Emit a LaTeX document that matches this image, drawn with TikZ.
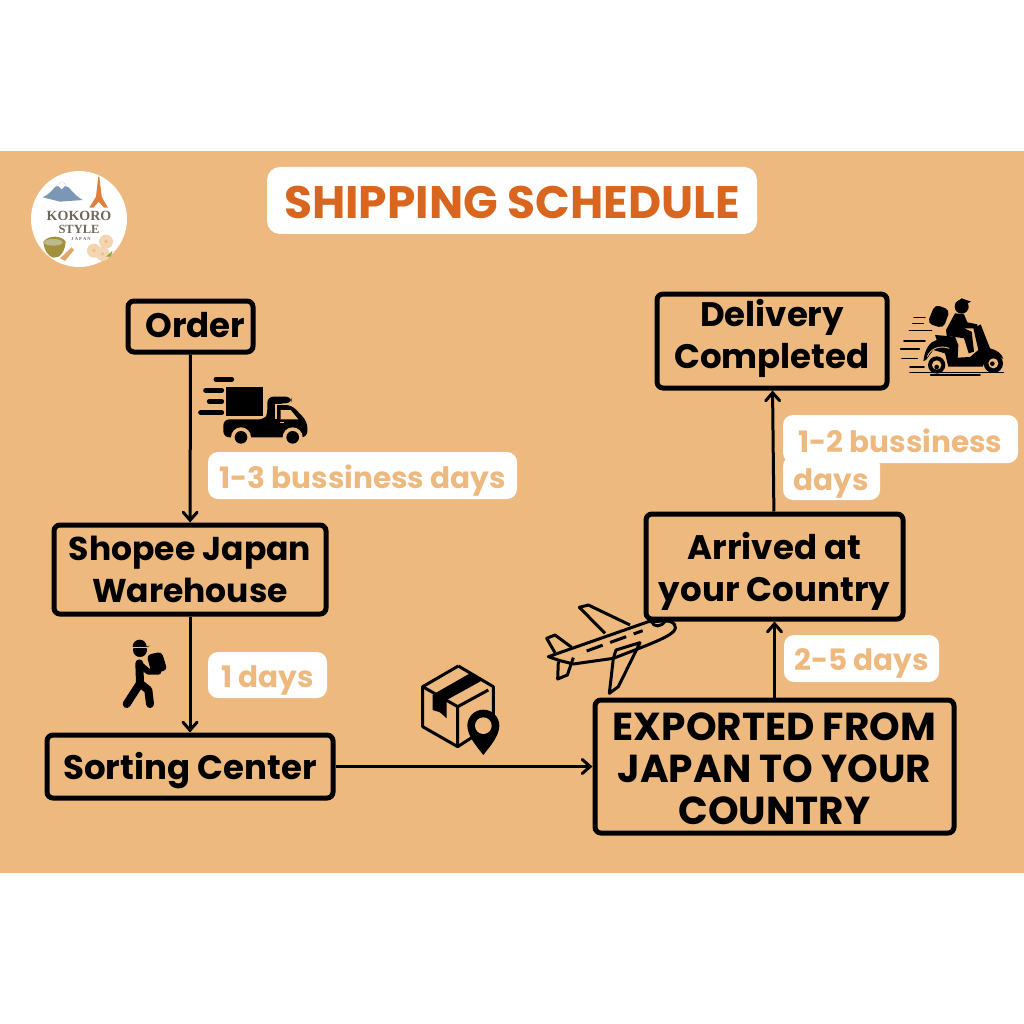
\documentclass[tikz,border=0pt]{standalone}
\usepackage{fontspec}
\usetikzlibrary{arrows.meta}
\setmainfont{Poppins}
\newfontfamily\logofont{Liberation Serif}
\definecolor{sand}{HTML}{EDB97F}
\definecolor{rust}{HTML}{D9661F}
\definecolor{logogrey}{HTML}{6E675C}
\definecolor{fuji}{HTML}{7C97B5}
\newcommand{\nudge}[2]{\raisebox{#1}[\height][\depth]{#2}}
\tikzset{
    stagebox/.style={draw=black, line width=5pt, rounded corners=6pt, align=center, inner sep=0pt,
        font=\fontsize{34}{42}\selectfont\bfseries},
    daytag/.style={fill=white, text=sand, rounded corners=10pt, inner sep=0pt,
        font=\fontsize{29.5}{36}\selectfont\bfseries},
    logotext/.style={text=logogrey, inner sep=0pt},
    flow/.style={-{Straight Barb[length=8pt, width=14pt, line cap=round]}, line width=3pt},
    speedline/.style={line width=1.6pt, line cap=round},
}
\begin{document}
\begin{tikzpicture}[x=1pt, y=-1pt]
    \useasboundingbox (0,0) rectangle (1024,1024);

    % Band
    \fill[sand] (0,151) rectangle (1024,873);

    % Logo
    \fill[white] (79,219) circle[radius=48];
    \begin{scope}[shift={(20,160)}, scale=1/3]
        \fill[fuji] (68,112) .. controls (95,100) and (105,75) .. (125,65) .. controls (145,75) and (160,105) .. (188,120) -- (120,125) -- cycle;
        \fill[white] (105,80) -- (125,65) -- (148,82) -- (135,78) -- (125,88) -- (115,78) -- cycle;
        \fill[rust!70!sand] (208,143) -- (228,110) -- (235,50) -- (238,50) -- (245,110) -- (264,143) -- (252,143) -- (236,125) -- (220,143) -- cycle;
        \fill[olive!55!brown!80!gray] (70,245) .. controls (85,225) and (125,225) .. (137,245) .. controls (135,275) and (120,295) .. (100,293) .. controls (85,290) and (72,270) .. (70,245) -- cycle;
        \fill[olive!40!gray!60] (100,247) ellipse[x radius=28, y radius=10];
        \fill[sand!70!brown] (120,295) -- (155,262) -- (162,270) -- (135,303) -- cycle;
        \foreach \cx/\cy in {258/245, 222/272, 248/282} {
            \fill[sand!60!white] (\cx,\cy) circle[radius=21];
            \fill[sand] (\cx,\cy) circle[radius=5];
        }
        \fill[olive!60!green!70!sand] (258,290) -- (278,272) -- (272,290) -- cycle;
    \end{scope}
    \node[logotext, font=\logofont\fontsize{14}{15}\selectfont\bfseries] (logoa) at (79,216) {KOKORO};
    \node[logotext, font=\logofont\fontsize{12.5}{13}\selectfont\bfseries] (logob) at (79,229) {STYLE};
    \node[logotext, font=\logofont\fontsize{4.5}{5}\selectfont\bfseries] (logoc) at (81,239.5) {J A P A N};

    % Title
    \node[fill=white, text=rust, rounded corners=13pt, minimum width=490pt, minimum height=67pt, inner sep=0pt,
        font=\fontsize{45.5}{50}\selectfont\bfseries] (title) at (512,200.5) {\nudge{-2pt}{SHIPPING SCHEDULE}};

    % Plane (goes under the boxes)
    \begin{scope}[shift={(530,590)}, scale=1/3, line width=3pt, line join=round]
        \draw (55,200) -- (355,95) -- (405,93) .. controls (432,92) and (445,110) .. (430,125) .. controls (410,145) and (340,170) .. (250,205) -- (130,222) -- (90,212) -- cycle;
        \draw (225,130) -- (148,52) -- (175,45) -- (300,105);
        \draw (75,188) -- (50,145) -- (75,135) -- (125,172);
        \draw (85,215) -- (83,267) -- (112,255) -- (130,203);
        \draw (250,205) -- (258,180) -- (330,158) -- (265,290) -- (238,310) -- cycle;
        \draw[dash pattern=on 17pt off 8pt] (170,183) -- (338,122);
        \draw (365,95) .. controls (370,112) and (395,112) .. (405,93);
    \end{scope}

    % Stages
    \node[stagebox, minimum width=125pt, minimum height=51pt] (order) at (190.5,326.5) {\kern10pt\nudge{1pt}{Order}};
    \node[stagebox, minimum width=272pt, minimum height=89pt, font=\fontsize{33}{42}\selectfont\bfseries] (shopee) at (190,569.5) {Shopee Japan\\Warehouse};
    \node[stagebox, minimum width=286pt, minimum height=63pt] (sorting) at (190,766.5) {\nudge{-4pt}{Sorting Center}};
    \node[stagebox, minimum width=359pt, minimum height=133pt, font=\fontsize{39}{42}\selectfont\bfseries] (exported) at (774.5,766.5) {\nudge{-2pt}{EXPORTED FROM}\\\nudge{-2pt}{JAPAN TO YOUR}\\\nudge{-2pt}{COUNTRY}};
    \node[stagebox, minimum width=257pt, minimum height=105pt] (arrived) at (774.5,566.5) {\nudge{-4.5pt}{Arrived at}\\\nudge{-4.5pt}{your Country}};
    \node[stagebox, minimum width=230pt, minimum height=94pt] (delivery) at (772,341) {\nudge{2.5pt}{Delivery}\\\nudge{2.5pt}{Completed}};

    % Connectors
    \draw[flow] (order) -- (shopee);
    \draw[flow] (shopee) -- (sorting);
    \draw[flow] (sorting) -- (exported);
    \draw[flow] (exported) -- (arrived);
    \draw[flow] (arrived) -- (delivery);

    % Day tags
    \node[daytag, minimum width=309pt, minimum height=47pt] (tagone) at (362.5,475.5) {\nudge{-5pt}{1-3 bussiness days}};
    \node[daytag, minimum width=119pt, minimum height=46pt] (tagtwo) at (267.5,675) {\nudge{-5pt}{1 days}};
    \node[daytag, minimum width=155pt, minimum height=47pt] (tagthree) at (861.5,658.5) {\nudge{-5pt}{2-5 days}};
    \node[daytag, minimum width=97pt, minimum height=44pt] (tagfourb) at (831.5,478) {\nudge{-5pt}{days}};
    \node[daytag, minimum width=235pt, minimum height=48pt] (tagfoura) at (900.5,439) {\nudge{-1.5pt}{1-2 bussiness}};

    % Truck
    \begin{scope}[shift={(190,360)}, scale=1/3]
        \fill (108,80) rectangle (218,167);
        \foreach \xa/\xb/\ya in {78/125/58, 47/95/91, 58/95/124, 32/95/158}
            \draw[line width=5pt, line cap=round] (\xa,\ya) -- (\xb,\ya);
        \fill[rounded corners=6pt] (100,232) -- (100,178) -- (225,178) -- (232,165) -- (232,110) -- (305,110) -- (305,130) -- (262,130) -- (262,135) -- (305,135) -- (352,185) -- (352,232) -- cycle;
        \draw[sand, line width=1.6pt] (258,178) -- (258,133) -- (310,133);
        \fill[sand] (272,150) -- (302,150) -- (325,178) -- (272,178) -- cycle;
        \draw[sand, line width=1.2pt] (270,188) -- (282,188);
        \foreach \cx in {153,308} {
            \fill[sand] (\cx,232) circle[radius=30];
            \fill (\cx,232) circle[radius=19];
        }
    \end{scope}

    % Scooter
    \begin{scope}[shift={(890,285)}, scale=1/3]
        \foreach \xa/\xb/\ya in {72/105/97, 68/100/116, 58/125/136, 42/105/168, 32/88/192, 36/82/220, 60/102/246}
            \draw[speedline] (\xa,\ya) -- (\xb,\ya);
        \draw[speedline] (60,262) -- (340,262);
        \draw[speedline] (122,270) -- (270,270);
        \fill[rounded corners=5pt] (135,58) -- (180,75) -- (160,130) -- (112,115) -- cycle;
        \fill (215,65) circle[radius=21];
        \fill (195,55) -- (215,40) -- (243,50) -- (225,58) -- cycle;
        \fill (195,85) -- (222,88) -- (232,112) -- (262,118) -- (262,130) -- (222,130) -- (245,140) -- (252,200) -- (236,205) -- (222,160) -- (170,152) -- (168,135) -- cycle;
        \fill (135,150) -- (195,155) -- (205,180) -- (203,218) -- (240,216) -- (265,195) -- (250,130) -- (272,118) -- (300,190) .. controls (320,195) and (335,205) .. (340,222) .. controls (320,205) and (290,210) .. (278,245) -- (175,245) -- (165,205) -- (130,195) -- (108,225) -- (100,228) .. controls (105,190) and (120,170) .. (140,165) -- cycle;
        \draw[sand, line width=0.9pt] (112,215) .. controls (122,190) and (150,180) .. (178,190);
        \fill[sand] (118,232) -- (140,200) -- (158,205) -- (165,232) -- cycle;
        \fill (140,240) circle[radius=26];
        \fill[sand] (140,240) circle[radius=14];
        \fill (310,235) circle[radius=29];
        \fill[sand] (310,235) circle[radius=15];
        \fill (307,236) circle[radius=7];
        \fill (140,246) circle[radius=7];
    \end{scope}

    % Parcel with pin
    \begin{scope}[shift={(410,655)}, scale=1/3, line join=round]
        \draw[line width=3pt] (145,33) -- (250,95) -- (250,180);
        \draw[line width=3pt] (185,248) -- (143,275) -- (38,215) -- (38,95) -- (145,33);
        \draw[line width=3pt] (38,95) -- (143,155) -- (143,275);
        \draw[line width=3pt] (143,155) -- (235,105);
        \fill (75,115) -- (180,55) -- (215,77) -- (110,135) -- (110,190) -- (90,172) -- (68,165) -- (68,120) -- cycle;
        \fill (172,212) arc[start angle=180, end angle=360, radius=48] .. controls (268,245) and (235,280) .. (220,300) .. controls (205,280) and (172,245) .. (172,212) -- cycle;
        \fill[sand] (220,212) circle[radius=25];
    \end{scope}

    % Worker
    \begin{scope}[shift={(110,630)}, scale=1/3]
        \fill[rounded corners=4pt] (110,75) -- (155,65) -- (172,120) -- (125,132) -- cycle;
        \fill (90,60) circle[radius=21];
        \fill (68,50) arc[start angle=180, end angle=360, radius=21] -- (120,47) -- (110,52) -- (68,52) -- cycle;
        \draw[sand, line width=1pt] (66,53) -- (112,53);
        \draw[line width=8pt, line cap=round, line join=round] (88,100) -- (90,160) -- (50,222);
        \draw[line width=8pt, line cap=round, line join=round] (90,160) -- (115,180) -- (120,222);
        \draw[line width=6pt, line cap=round, line join=round] (95,108) -- (115,125) -- (145,125);
    \end{scope}
\end{tikzpicture}
\end{document}
